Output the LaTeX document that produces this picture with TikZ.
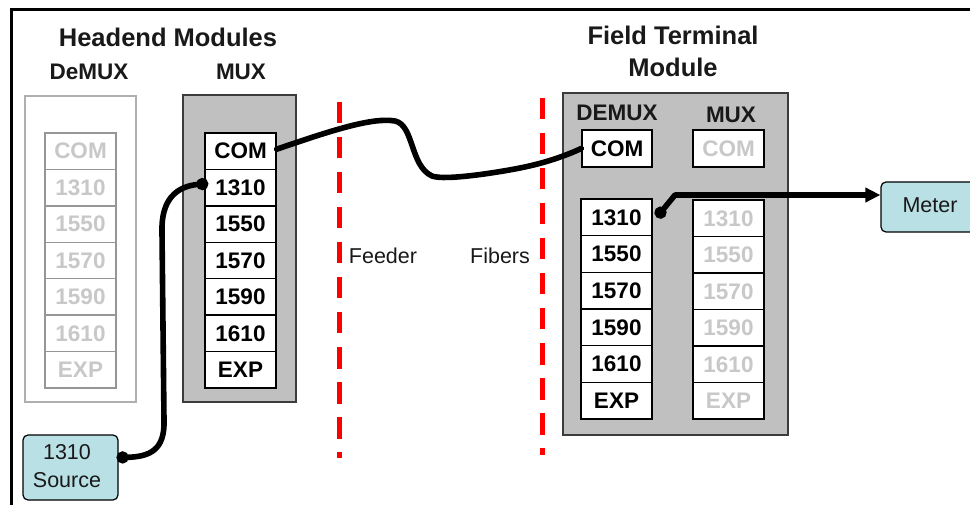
\documentclass[tikz,border=0pt]{standalone}
\usepackage{fontspec}
\setmainfont{Liberation Sans}
\usetikzlibrary{arrows.meta}
\definecolor{boxgray}{RGB}{192,192,192}
\definecolor{litetext}{RGB}{200,200,200}
\definecolor{liteline}{RGB}{150,150,150}
\definecolor{liteframe}{RGB}{175,175,175}
\definecolor{cyanfill}{RGB}{185,224,228}
\definecolor{darkframe}{RGB}{60,60,60}
\definecolor{headtext}{RGB}{25,25,25}
\tikzset{
  slotbox/.style={draw=black, line width=1.4pt, fill=white, minimum width=71pt,
    inner sep=0pt, font=\bfseries\fontsize{22.5}{26}\selectfont, text=black},
  liteslot/.style={slotbox, draw=liteline, text=litetext},
  ftmlite/.style={slotbox, text=litetext},
  graybox/.style={draw=darkframe, line width=1.8pt, fill=boxgray, inner sep=0pt},
  whitebox/.style={draw=liteframe, line width=1.6pt, fill=white, inner sep=0pt},
  headlabel/.style={font=\bfseries\fontsize{25.5}{32}\selectfont, text=headtext, align=center, inner sep=0pt},
  sublabel/.style={font=\bfseries\fontsize{22.5}{26}\selectfont, text=headtext, inner sep=0pt},
  plainlabel/.style={font=\fontsize{21.5}{28}\selectfont, text=headtext, inner sep=0pt, align=center},
  devbox/.style={draw=black, line width=1.2pt, fill=cyanfill, rounded corners=5pt, inner sep=0pt},
  fiber/.style={line width=5.6pt, black, line cap=round, line join=round},
  cut/.style={line width=5pt, red, dash pattern=on 21.5pt off 13.5pt},
}
\begin{document}
\begin{tikzpicture}[x=1pt,y=-1pt]
\clip (0,0) rectangle (970,505);
\fill[white] (0,0) rectangle (970,505);
% frame
\coordinate (fbl) at (11,505);
\coordinate (ftl) at (11,10);
\coordinate (ftr) at (970,10);
\draw[line width=3pt] (fbl) -- (ftl) -- (ftr);

% headings
\node[headlabel] (hhead) at (168,37) {Headend Modules};
\node[sublabel] (hdemux) at (89,72) {DeMUX};
\node[sublabel] (hmux) at (241,72) {MUX};
\node[headlabel] (fhead) at (673,51) {Field Terminal\\Module};

% headend outer boxes
\node[whitebox, minimum width=111pt, minimum height=306pt] (hdbox) at (80.5,249) {};
\node[graybox, minimum width=113pt, minimum height=307pt] (hmbox) at (239.5,248.5) {};

% headend slots
\foreach \t [count=\i from 0] in {COM,1310,1550,1570,1590,1610,EXP}{
  \node[liteslot, minimum height=36.4pt] (d\t) at (80.5,{151.2+36.43*\i}) {\t};
  \node[slotbox, minimum height=36.4pt] (m\t) at (240.5,{151.2+36.43*\i}) {\t};
}

% field terminal module
\node[graybox, minimum width=225pt, minimum height=342pt] (ftmbox) at (675.5,264) {};
\node[sublabel] (fdemux) at (617,113) {DEMUX};
\node[sublabel] (fmux) at (731,115) {MUX};
\node[slotbox, minimum width=70pt, minimum height=37pt] (fCOM) at (617,148.5) {COM};
\node[ftmlite, minimum height=37pt] (gCOM) at (728.5,148.5) {COM};
\foreach \t [count=\i from 0] in {1310,1550,1570,1590,1610,EXP}{
  \node[slotbox, minimum height=36.7pt] (f\t) at (616.5,{217.3+36.67*\i}) {\t};
  \node[ftmlite, minimum height=36.7pt] (g\t) at (728.5,{218.3+36.5*\i}) {\t};
}

% feeder fiber cut lines
\coordinate (c1top) at (339,102);
\coordinate (c1bot) at (339,458);
\coordinate (c2top) at (542,98);
\coordinate (c2bot) at (542,455);
\draw[cut] (c1top) -- (c1bot);
\draw[cut] (c2top) -- (c2bot);
\node[plainlabel] (feeder) at (383,256) {Feeder};
\node[plainlabel] (fibers) at (500,256) {Fibers};

% devices
\node[devbox, minimum width=95pt, minimum height=65pt] (src) at (70.5,467.5) {};
\node[plainlabel] (srctext) at (67,466) {1310\\Source};
\node[devbox, minimum width=98pt, minimum height=50pt] (meter) at (930,207) {};
\node[plainlabel] (metertext) at (930,205) {Meter};

% fibers
\draw[fiber] ([yshift=2pt]mCOM.east) .. controls (330,131) and (372,117) .. (395,121)
  .. controls (414,125) and (410,166) .. (432,176)
  .. controls (445,181) and (500,172) .. (520,168)
  .. controls (545,163) and (565,156) .. (fCOM.west);
\draw[fiber, {Circle[length=12pt]}-{Circle[length=12pt]}] ([yshift=10pt,xshift=-2pt]src.east)
  .. controls (150,457) and (165,450) .. (164,420)
  -- (162,232) .. controls (161,200) and (176,186) .. ([yshift=4pt,xshift=4pt]m1310.west);
\coordinate (bend) at (675,195);
\draw[fiber, line cap=butt, {Circle[length=12pt]}-{Triangle[length=15pt,width=14pt]}]
  ([xshift=4pt]f1310.east) -- (bend) -- ([yshift=12pt]meter.west);
\end{tikzpicture}
\end{document}
